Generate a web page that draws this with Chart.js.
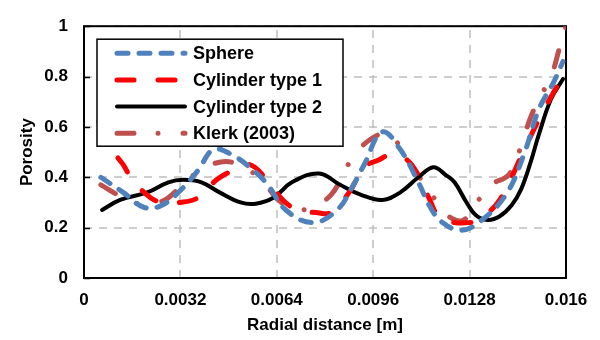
<!DOCTYPE html>
<html lang="en">
<head>
  <meta charset="UTF-8" />
  <title>Porosity vs radial distance</title>
  <script src="https://cdn.jsdelivr.net/npm/chart.js"></script>
  <style>
    body { margin: 0; background: #fff; }
    #box { width: 600px; height: 340px; }
  </style>
</head>
<body>
  <div id="box"><canvas id="grafico" width="600" height="340"></canvas></div>

  <script>
    // ticks
    const xTicks = [0, 0.0032, 0.0064, 0.0096, 0.0128, 0.016];
    const xTickLabels = ['0', '0.0032', '0.0064', '0.0096', '0.0128', '0.016'];
    const yTicks = [0, 0.2, 0.4, 0.6, 0.8, 1];
    const yTickLabels = ['0', '0.2', '0.4', '0.6', '0.8', '1'];

    // Sphere
    const sphereX = [0.00056, 0.0013, 0.0020, 0.0026, 0.0033, 0.0038, 0.0043, 0.0049, 0.0056, 0.0061, 0.0067, 0.0076, 0.0084, 0.0089, 0.0093, 0.0099, 0.0105, 0.0111, 0.0115, 0.0119, 0.0125, 0.0131, 0.0140, 0.0146, 0.0151, 0.0156, 0.0159];
    const sphereY = [0.40, 0.34, 0.28, 0.29, 0.36, 0.43, 0.51, 0.49, 0.43, 0.37, 0.27, 0.22, 0.27, 0.36, 0.45, 0.58, 0.51, 0.38, 0.28, 0.22, 0.19, 0.22, 0.33, 0.49, 0.67, 0.78, 0.86];

    // Cylinder type 1
    const cyl1X = [0.0005, 0.0008, 0.0013, 0.0016, 0.0022, 0.0026, 0.0032, 0.0038, 0.0044, 0.0050, 0.0055, 0.0060, 0.0066, 0.0071, 0.0077, 0.0082, 0.0088, 0.0093, 0.0098, 0.0102, 0.0108, 0.0114, 0.0118, 0.0123, 0.0128, 0.0131, 0.0138, 0.0145, 0.0151, 0.0156, 0.0159];
    const cyl1Y = [0.62, 0.53, 0.45, 0.39, 0.32, 0.30, 0.30, 0.32, 0.39, 0.43, 0.45, 0.40, 0.31, 0.27, 0.26, 0.26, 0.34, 0.44, 0.47, 0.49, 0.46, 0.33, 0.24, 0.22, 0.22, 0.23, 0.31, 0.48, 0.63, 0.74, 0.80];

    // Cylinder type 2
    const cyl2X = [0.0006, 0.0012, 0.0021, 0.0028, 0.0033, 0.0039, 0.0045, 0.0052, 0.0057, 0.0063, 0.0069, 0.0078, 0.0085, 0.0092, 0.0099, 0.0105, 0.0111, 0.0116, 0.0120, 0.0123, 0.0127, 0.0130, 0.0134, 0.0138, 0.0142, 0.0145, 0.0148, 0.0151, 0.0155, 0.0159];
    const cyl2Y = [0.27, 0.31, 0.34, 0.38, 0.39, 0.38, 0.34, 0.30, 0.295, 0.32, 0.38, 0.415, 0.37, 0.33, 0.31, 0.34, 0.40, 0.44, 0.41, 0.38, 0.30, 0.25, 0.23, 0.245, 0.29, 0.35, 0.45, 0.57, 0.71, 0.79];

    // Klerk (2003)
    const klerkX = [0.00056, 0.0012, 0.0018, 0.0026, 0.0031, 0.0037, 0.0042, 0.0049, 0.0058, 0.0065, 0.0071, 0.0077, 0.0082, 0.0086, 0.0089, 0.0095, 0.0101, 0.0109, 0.0113, 0.0117, 0.0121, 0.0126, 0.0131, 0.0135, 0.0141, 0.0145, 0.0148, 0.0151, 0.0155, 0.0158, 0.0160];
    const klerkY = [0.37, 0.325, 0.295, 0.305, 0.35, 0.415, 0.45, 0.46, 0.40, 0.305, 0.27, 0.29, 0.33, 0.41, 0.475, 0.55, 0.57, 0.445, 0.37, 0.305, 0.245, 0.23, 0.31, 0.37, 0.41, 0.52, 0.63, 0.71, 0.80, 0.92, 1.00];

    const pares = (xs, ys) => xs.map((x, i) => ({ x: x, y: ys[i] }));

    Chart.defaults.font.family = "'Liberation Sans', Arial, sans-serif";
    Chart.defaults.font.weight = 'bold';
    Chart.defaults.font.size = 17;
    Chart.defaults.color = '#000';

    // legend box inside the plot, Excel style
    const legendaExcel = {
      id: 'legendaExcel',
      afterDraw(chart) {
        const ctx = chart.ctx;
        const a = chart.chartArea;
        const x0 = a.left + 13, y0 = a.top + 13, w = 246, h = 107;
        ctx.save();
        ctx.fillStyle = '#fff';
        ctx.fillRect(x0, y0, w, h);
        ctx.lineWidth = 1.5;
        ctx.strokeStyle = '#000';
        ctx.strokeRect(x0, y0, w, h);
        ctx.font = "bold 18px 'Liberation Sans', Arial, sans-serif";
        ctx.textBaseline = 'middle';
        chart.data.datasets.forEach((ds, i) => {
          const yy = y0 + 14 + i * 26.7;
          ctx.beginPath();
          ctx.setLineDash(ds.borderDash || []);
          ctx.lineCap = ds.borderCapStyle || 'butt';
          ctx.lineWidth = ds.borderWidth;
          ctx.strokeStyle = ds.borderColor;
          ctx.moveTo(x0 + 20, yy);
          ctx.lineTo(x0 + 88, yy);
          ctx.stroke();
          ctx.setLineDash([]);
          ctx.fillStyle = '#000';
          ctx.fillText(ds.label, x0 + 96, yy + 1);
        });
        ctx.restore();
      }
    };

    // dashed grey grid, black frame and small inward ticks on the left
    const moldura = {
      id: 'moldura',
      beforeDatasetsDraw(chart) {
        const ctx = chart.ctx;
        const a = chart.chartArea;
        const xs = chart.scales.x;
        const ys = chart.scales.y;
        ctx.save();
        ctx.strokeStyle = '#BFBFBF';
        ctx.lineWidth = 1.5;
        ctx.setLineDash([8, 7]);
        xTicks.forEach(v => {
          const px = Math.round(xs.getPixelForValue(v));
          ctx.beginPath();
          ctx.moveTo(px, a.bottom);
          ctx.lineTo(px, a.top);
          ctx.stroke();
        });
        yTicks.forEach(v => {
          const py = Math.round(ys.getPixelForValue(v));
          ctx.beginPath();
          ctx.moveTo(a.left, py);
          ctx.lineTo(a.right, py);
          ctx.stroke();
        });
        ctx.setLineDash([]);
        ctx.lineWidth = 2;
        ctx.strokeStyle = '#000';
        ctx.strokeRect(a.left, a.top, a.right - a.left, a.bottom - a.top);
        ctx.lineWidth = 1.5;
        yTicks.forEach(v => {
          const py = Math.round(ys.getPixelForValue(v)) + 0.5;
          ctx.beginPath();
          ctx.moveTo(a.left, py);
          ctx.lineTo(a.left + 6, py);
          ctx.stroke();
        });
        ctx.restore();
      }
    };

    new Chart(document.getElementById('grafico'), {
      type: 'line',
      data: {
        datasets: [
          {
            label: 'Sphere',
            data: pares(sphereX, sphereY),
            borderColor: '#4F81BD',
            borderWidth: 5,
            borderDash: [11, 11],
            borderCapStyle: 'round'
          },
          {
            label: 'Cylinder type 1',
            data: pares(cyl1X, cyl1Y),
            borderColor: '#FF0000',
            borderWidth: 5,
            borderDash: [17, 24],
            borderCapStyle: 'round'
          },
          {
            label: 'Cylinder type 2',
            data: pares(cyl2X, cyl2Y),
            borderColor: '#000000',
            borderWidth: 4,
            borderCapStyle: 'round'
          },
          {
            label: 'Klerk (2003)',
            data: pares(klerkX, klerkY),
            borderColor: '#C0504D',
            borderWidth: 5,
            borderDash: [17, 24, 0.01, 25],
            borderCapStyle: 'round'
          }
        ]
      },
      options: {
        responsive: false,
        animation: false,
        layout: { padding: { left: 0, right: 34, top: 13, bottom: 0 } },
        elements: {
          point: { radius: 0 },
          line: { tension: 0.4, fill: false }
        },
        plugins: {
          legend: { display: false },
          tooltip: { enabled: false }
        },
        scales: {
          x: {
            type: 'linear',
            min: 0,
            max: 0.016,
            afterBuildTicks: s => { s.ticks = xTicks.map(v => ({ value: v })); },
            afterFit: s => { s.height = 62; },
            ticks: {
              padding: 12,
              maxRotation: 0,
              callback: (v, i) => xTickLabels[i]
            },
            grid: { display: false, drawTicks: false },
            border: { display: false },
            title: {
              display: true,
              text: 'Radial distance [m]',
              padding: { top: 0, bottom: 4 }
            }
          },
          y: {
            min: 0,
            max: 1,
            afterBuildTicks: s => { s.ticks = yTicks.map(v => ({ value: v })); },
            afterFit: s => { s.width = 84; },
            ticks: {
              padding: 16,
              callback: (v, i) => yTickLabels[i]
            },
            grid: { display: false, drawTicks: false },
            border: { display: false },
            title: {
              display: true,
              text: 'Porosity',
              padding: { top: 17, bottom: 0 }
            }
          }
        }
      },
      plugins: [moldura, legendaExcel]
    });
  </script>
</body>
</html>
